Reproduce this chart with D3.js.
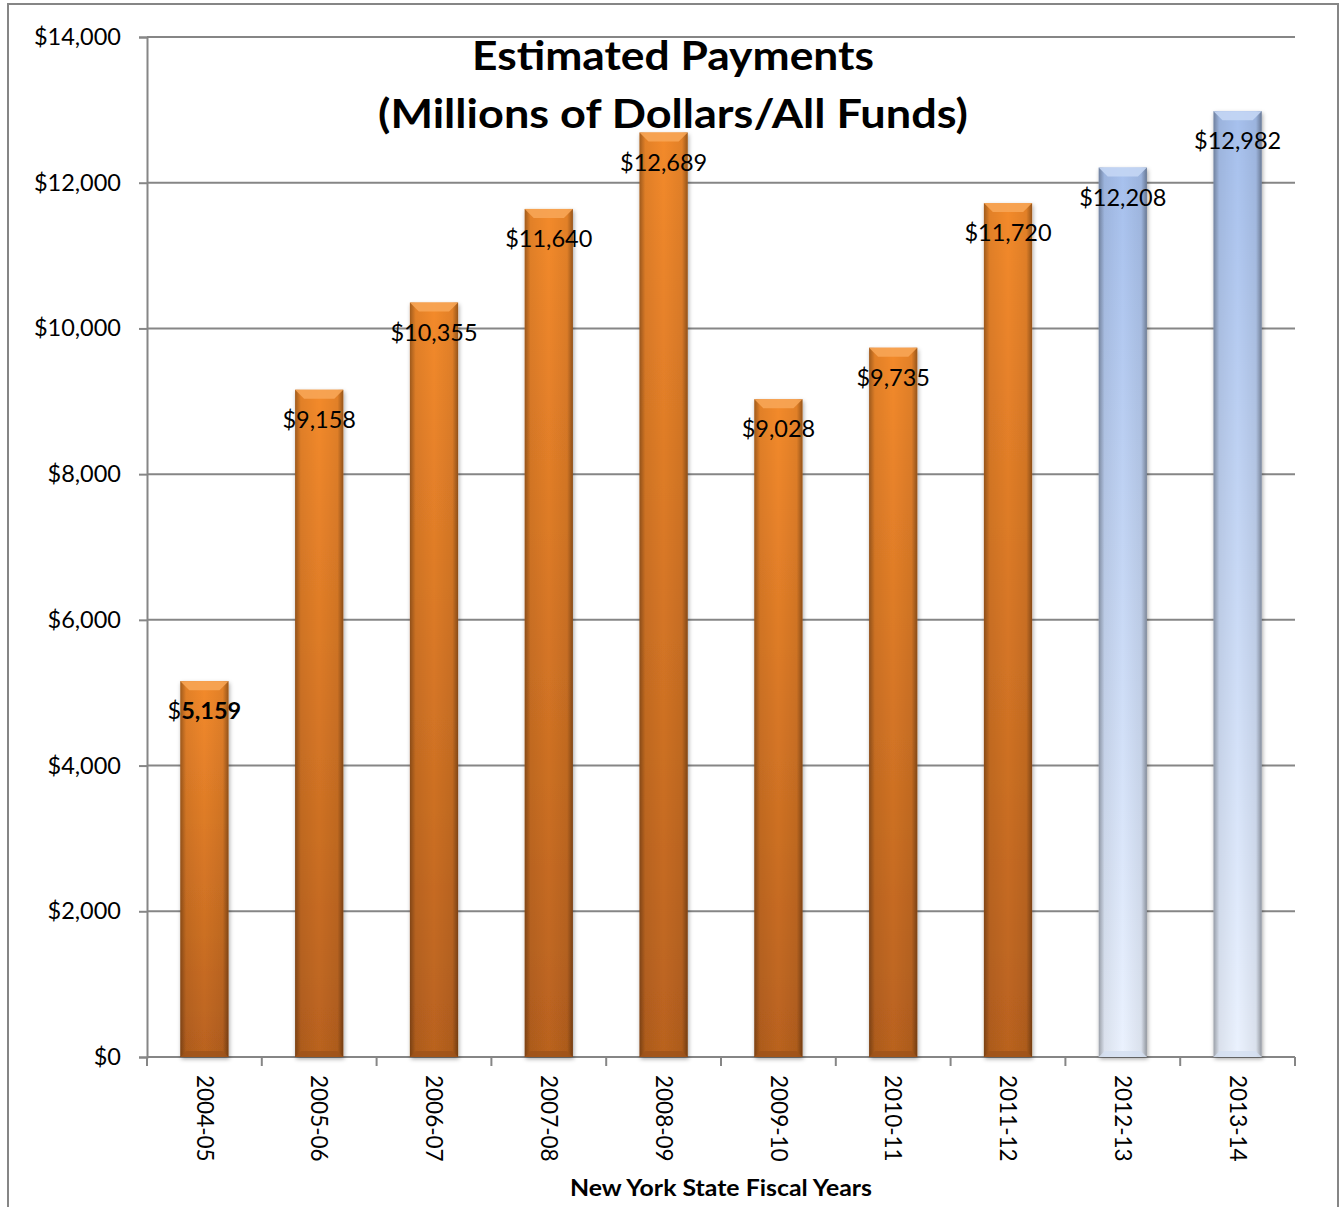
<!DOCTYPE html>
<html>
<head>
<meta charset="utf-8">
<script src="https://cdn.jsdelivr.net/npm/d3@7"></script>
<style>
  html, body { margin: 0; padding: 0; background: #fff; }
  svg { display: block; font-family: Lato, "Open Sans", sans-serif; }
</style>
</head>
<body>
<svg id="chart" width="1343" height="1207"></svg>
<script>
// Fiscal years on the x axis
const fiscalYears = ["2004-05", "2005-06", "2006-07", "2007-08", "2008-09",
                     "2009-10", "2010-11", "2011-12", "2012-13", "2013-14"];
// Estimated payments, millions of dollars (all funds)
const payments = [5159, 9158, 10355, 11640, 12689, 9028, 9735, 11720, 12208, 12982];
// Which years are projections rather than actuals
const paymentKind = ["actual", "actual", "actual", "actual", "actual",
                     "actual", "actual", "actual", "projected", "projected"];
const yTicks = [0, 2000, 4000, 6000, 8000, 10000, 12000, 14000];
const titleLines = ["Estimated Payments", "(Millions of Dollars/All Funds)"];
const xAxisTitle = "New York State Fiscal Years";

const svg = d3.select("#chart");
const plot = { left: 147, right: 1295, top: 37, bottom: 1057 };
const axisColor = "#868686";

const x = d3.scaleBand().domain(fiscalYears).range([plot.left, plot.right]).paddingInner(0.58).paddingOuter(0.29);
const y = d3.scaleLinear().domain([0, 14000]).range([plot.bottom, plot.top]);

const defs = svg.append("defs");

// Outer chart frame
svg.append("rect")
  .attr("x", 8).attr("y", 4).attr("width", 1330).attr("height", 1215)
  .attr("fill", "none").attr("stroke", axisColor).attr("stroke-width", 2);

// Gradients for the bevelled bar look
function vGrad(id, top, bottom) {
  const g = defs.append("linearGradient").attr("id", id).attr("x1", 0).attr("y1", 0).attr("x2", 0).attr("y2", 1);
  g.append("stop").attr("offset", "0%").attr("stop-color", top);
  g.append("stop").attr("offset", "100%").attr("stop-color", bottom);
}
vGrad("fill-actual", "#f38a2c", "#b9621f");
vGrad("fill-projected", "#a6c0ed", "#ebf2fe");

const edge = defs.append("linearGradient").attr("id", "edge-shade").attr("x1", 0).attr("y1", 0).attr("x2", 1).attr("y2", 0);
[[0, 0.34], [0.12, 0.07], [0.5, 0], [0.88, 0.07], [1, 0.38]].forEach(([o, a]) =>
  edge.append("stop").attr("offset", o).attr("stop-color", "#000").attr("stop-opacity", a));

const shadow = defs.append("filter").attr("id", "bar-shadow").attr("x", "-20%").attr("y", "-5%").attr("width", "140%").attr("height", "110%");
shadow.append("feDropShadow").attr("dx", 1).attr("dy", 2).attr("stdDeviation", 2).attr("flood-color", "#000").attr("flood-opacity", 0.35);

// Gridlines
svg.append("g").selectAll("line").data(yTicks.filter(d => d > 0)).join("line")
  .attr("x1", plot.left).attr("x2", plot.right)
  .attr("y1", d => y(d)).attr("y2", d => y(d))
  .attr("stroke", axisColor).attr("stroke-width", 2);

// Y axis
const yAxis = svg.append("g").attr("transform", `translate(${plot.left},0)`)
  .call(d3.axisLeft(y).tickValues(yTicks).tickSize(8).tickPadding(18).tickFormat(d => "$" + d3.format(",")(d)));
yAxis.select(".domain").attr("stroke", axisColor).attr("stroke-width", 2);
yAxis.selectAll(".tick line").attr("stroke", axisColor).attr("stroke-width", 2);
yAxis.selectAll("text").attr("font-size", 23.5).attr("fill", "#000").attr("font-family", "Lato, sans-serif");

// X axis: ticks on band boundaries
const xAxisG = svg.append("g").attr("transform", `translate(0,${plot.bottom})`);
xAxisG.append("line").attr("x1", plot.left).attr("x2", plot.right).attr("stroke", axisColor).attr("stroke-width", 2);
const step = x.step();
const boundaries = d3.range(fiscalYears.length + 1).map(i => plot.left + i * step);
xAxisG.selectAll("line.tick").data(boundaries).join("line").attr("class", "tick")
  .attr("x1", d => d).attr("x2", d => d).attr("y1", 0).attr("y2", 9)
  .attr("stroke", axisColor).attr("stroke-width", 2);
xAxisG.selectAll("text").data(fiscalYears).join("text")
  .attr("transform", d => `translate(${x(d) + x.bandwidth() / 2},18) rotate(90)`)
  .attr("dy", "0.35em").attr("text-anchor", "start")
  .attr("font-size", 22.5).attr("fill", "#000").text(d => d);

// Bars
const rows = fiscalYears.map((c, i) => ({ year: c, value: payments[i], kind: paymentKind[i] }));
const bars = svg.append("g").selectAll("g").data(rows).join("g");
bars.append("rect")
  .attr("x", d => x(d.year)).attr("y", d => y(d.value))
  .attr("width", x.bandwidth()).attr("height", d => y(0) - y(d.value))
  .attr("fill", d => d.kind === "actual" ? "url(#fill-actual)" : "url(#fill-projected)")
  .attr("filter", "url(#bar-shadow)");
bars.append("rect")
  .attr("x", d => x(d.year)).attr("y", d => y(d.value))
  .attr("width", x.bandwidth()).attr("height", d => y(0) - y(d.value))
  .attr("fill", "url(#edge-shade)");
// top bevel
bars.append("path")
  .attr("d", d => {
    const x0 = x(d.year), x1 = x0 + x.bandwidth(), t = y(d.value), b = 9;
    return `M${x0},${t}L${x1},${t}L${x1 - b},${t + b}L${x0 + b},${t + b}Z`;
  })
  .attr("fill", d => d.kind === "actual" ? "#f7a555" : "#c4d6f4").attr("opacity", 0.9);
// bottom bevel
bars.append("path")
  .attr("d", d => {
    const x0 = x(d.year), x1 = x0 + x.bandwidth(), bt = y(0), b = 6;
    return `M${x0},${bt}L${x1},${bt}L${x1 - b},${bt - b}L${x0 + b},${bt - b}Z`;
  })
  .attr("fill", d => d.kind === "actual" ? "#9e531a" : "#d3def0").attr("opacity", 0.8);

// Value labels
const fmt = d3.format(",");
const labels = svg.append("g").selectAll("text").data(rows).join("text")
  .attr("x", d => x(d.year) + x.bandwidth() / 2)
  .attr("y", d => y(d.value) + 38)
  .attr("text-anchor", "middle").attr("font-size", 23.5).attr("fill", "#000");
labels.each(function (d, i) {
  const t = d3.select(this);
  if (i === 0) {
    t.append("tspan").text("$");
    t.append("tspan").attr("font-weight", "bold").text(fmt(d.value));
  } else {
    t.text("$" + fmt(d.value));
  }
});

// Title
svg.append("g").selectAll("text").data(titleLines).join("text")
  .attr("x", 673).attr("y", (d, i) => 70 + i * 58)
  .attr("text-anchor", "middle").attr("font-size", 40).attr("font-weight", "bold").attr("fill", "#000")
  .attr("textLength", (d, i) => i === 0 ? 402 : 590).attr("lengthAdjust", "spacingAndGlyphs")
  .text(d => d);

// X axis title
svg.append("text")
  .attr("x", 721).attr("y", 1196).attr("text-anchor", "middle")
  .attr("font-size", 22).attr("font-weight", "bold").attr("fill", "#000")
  .attr("textLength", 302).attr("lengthAdjust", "spacingAndGlyphs")
  .text(xAxisTitle);
</script>
</body>
</html>
